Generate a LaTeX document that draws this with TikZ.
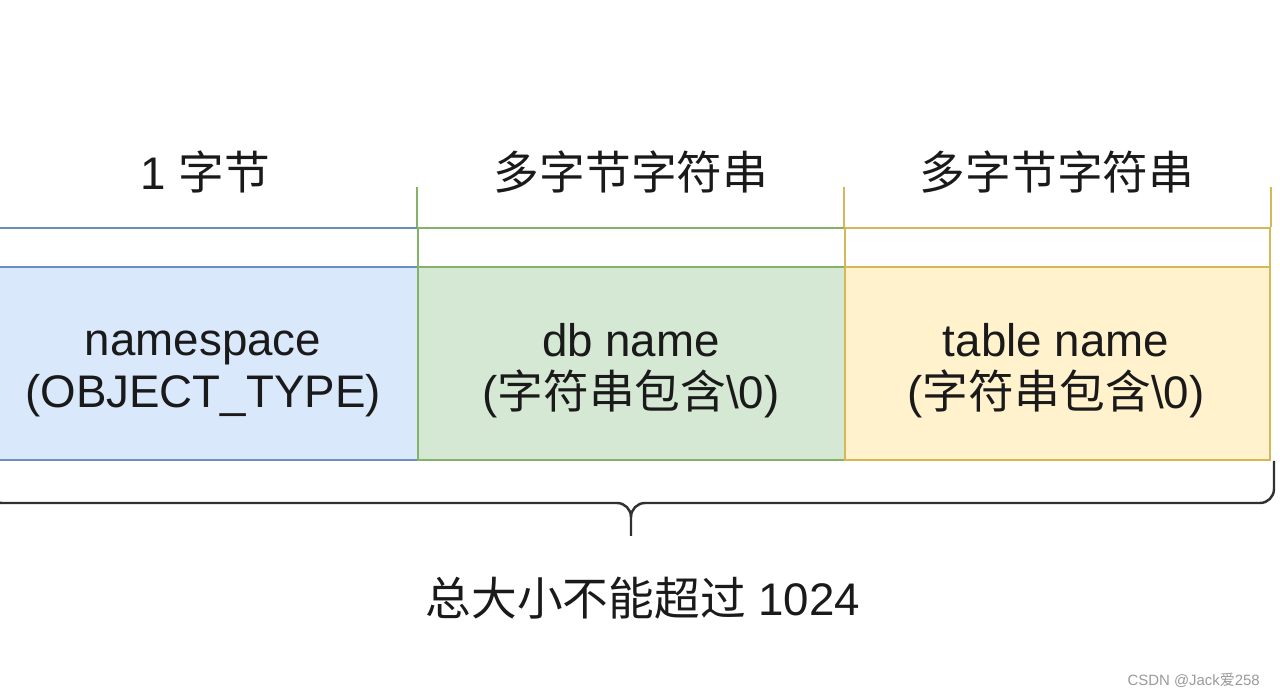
\documentclass[tikz,border=0pt]{standalone}
\usepackage{fontspec}
\setmainfont{Liberation Sans}
\newfontfamily\cjk{Noto Sans CJK SC}
\usetikzlibrary{positioning, calc}
\definecolor{mBlueFill}{HTML}{DAE8FC}
\definecolor{mBlueLine}{HTML}{6C8EBF}
\definecolor{mGreenFill}{HTML}{D5E8D4}
\definecolor{mGreenLine}{HTML}{82B366}
\definecolor{mYellowFill}{HTML}{FFF2CC}
\definecolor{mYellowLine}{HTML}{D6B656}
\definecolor{mText}{HTML}{1A1A1A}
\newcommand{\zh}[1]{{\cjk #1}}
\tikzset{
  fbody/.style={draw, line width=1.1pt, minimum height=3.86cm, inner sep=0pt,
                align=center, text=mText,
                font=\fontsize{26}{29.5}\selectfont},
  fhead/.style={draw, line width=1.1pt, minimum height=0.78cm, inner sep=0pt},
  flabel/.style={text=mText, font=\fontsize{26}{30}\selectfont},
  fside/.style={line width=1.1pt},
  fbrace/.style={line width=1.4pt, mText!90},
}

\begin{document}
\begin{tikzpicture}
    \useasboundingbox (0,0) rectangle (25.6,13.94);
    % header strips
    \node[fhead, draw=mBlueLine,   minimum width=8.56cm] (hA) at (4.08,8.99) {};
    \node[fhead, draw=mGreenLine,  minimum width=8.54cm] (hB) at (12.63,8.99) {};
    \node[fhead, draw=mYellowLine, minimum width=8.50cm] (hC) at (21.15,8.99) {};
    \draw[fside, mGreenLine]  (hB.north west) -- ++(0,0.80);
    \draw[fside, mYellowLine] (hC.north west) -- ++(0,0.80);
    \draw[fside, mYellowLine] (hC.north east) -- ++(0,0.80);
    % field bodies
    \node[fbody, draw=mBlueLine, fill=mBlueFill, minimum width=8.56cm] (A) at (4.08,6.67) {};
    \node[fbody, draw=mGreenLine, fill=mGreenFill, minimum width=8.54cm] (B) at (12.63,6.67) {};
    \node[fbody, draw=mYellowLine, fill=mYellowFill, minimum width=8.50cm] (C) at (21.15,6.67) {};
    \node[fbody, draw=none] (tA) at (4.06,6.46) {namespace\\(OBJECT\_TYPE)};
    \node[fbody, draw=none] (tB) at (12.62,6.52) {db name\\(\zh{字符串包含}\textbackslash 0)};
    \node[fbody, draw=none] (tC) at (21.12,6.52) {table name\\(\zh{字符串包含}\textbackslash 0)};
    % sizes
    \node[flabel] (sA) at (4.10,10.50) {1 \zh{字节}};
    \node[flabel] (sB) at (12.62,10.50) {\zh{多字节字符串}};
    \node[flabel] (sC) at (21.14,10.50) {\zh{多字节字符串}};
    % brace
    \draw[fbrace] (-0.24,4.70) -- (-0.24,4.16)
      arc[start angle=180, end angle=270, radius=0.28] -- (12.34,3.88)
      arc[start angle=90, end angle=0, radius=0.28] -- (12.62,3.22);
    \draw[fbrace] (25.48,4.72) -- (25.48,4.16)
      arc[start angle=0, end angle=-90, radius=0.28] -- (12.90,3.88)
      arc[start angle=90, end angle=180, radius=0.28];
    \node[flabel] (total) at (12.86,1.98) {\zh{总大小不能超过} 1024};
    \node[text=black!40, font=\fontsize{8.5}{10}\selectfont, anchor=east] (wm)
      at (25.32,0.34) {CSDN @Jack\zh{爱}258};
\end{tikzpicture}
\end{document}
